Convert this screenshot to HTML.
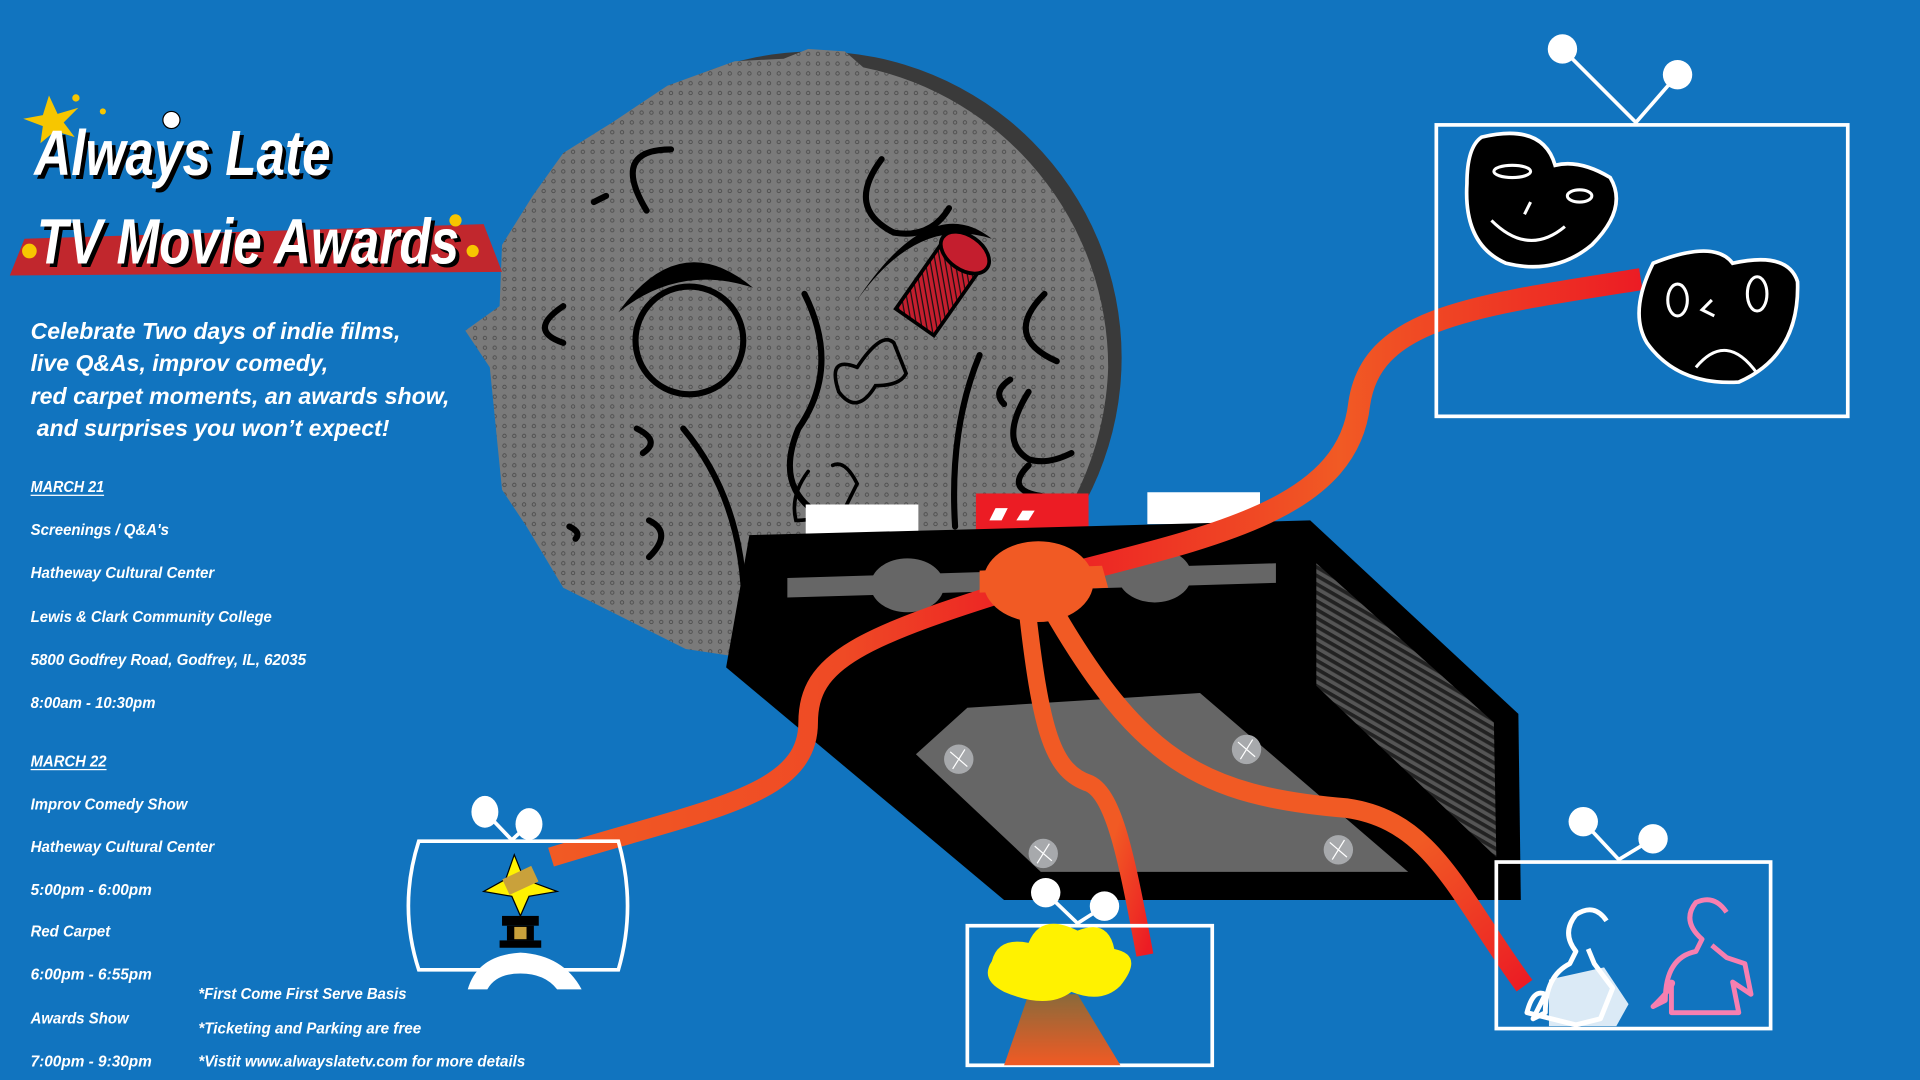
<!DOCTYPE html>
<html><head><meta charset="utf-8"><style>
html,body{margin:0;padding:0;background:#1174bf;overflow:hidden}
svg{display:block}
text{font-family:"Liberation Sans",sans-serif}
</style></head><body>
<svg width="1920" height="1080" viewBox="0 0 1568 882" xmlns="http://www.w3.org/2000/svg">
<defs>
<pattern id="dots" width="8" height="8" patternUnits="userSpaceOnUse">
<rect width="8" height="8" fill="#7a7a7a"/><circle cx="4" cy="4" r="1.4" fill="none" stroke="#4a4a4a" stroke-width="0.7"/>
</pattern>
<pattern id="hatch" width="6" height="6" patternUnits="userSpaceOnUse" patternTransform="rotate(30)">
<rect width="6" height="6" fill="#555"/><rect width="6" height="3" fill="#222"/>
</pattern>
<pattern id="rhatch" width="4" height="4" patternUnits="userSpaceOnUse" patternTransform="rotate(45)">
<rect width="4" height="4" fill="#c41e2e"/><rect width="4" height="1" fill="#111"/>
</pattern>
<linearGradient id="cab" x1="0" x2="1"><stop offset="0" stop-color="#ec1c24"/><stop offset="0.5" stop-color="#f15a24"/><stop offset="1" stop-color="#ec1c24"/></linearGradient>
<linearGradient id="cab2" x1="0" x2="1"><stop offset="0" stop-color="#f15a24"/><stop offset="0.6" stop-color="#ef4a25"/><stop offset="1" stop-color="#ec1c24"/></linearGradient>
<linearGradient id="cab3" x1="0" x2="1" y1="0" y2="1"><stop offset="0" stop-color="#f15a24"/><stop offset="0.7" stop-color="#f15a24"/><stop offset="1" stop-color="#ec1c24"/></linearGradient>
<linearGradient id="trunk" x1="0" y1="0" x2="0" y2="1"><stop offset="0" stop-color="#8a6a3a"/><stop offset="1" stop-color="#f15a24"/></linearGradient>
</defs>
<rect width="1568" height="882" fill="#1174bf"/>

<!-- moon -->
<circle cx="666" cy="292" r="250" fill="#3a3a3a"/>
<path d="M660 40 L690 42 L705 55 A250 250 0 0 1 905 300 A250 250 0 0 1 640 542 L560 530 L460 480 L430 430 L410 400 L404 340 L400 300 L380 270 L408 250 L410 200 L435 160 L460 125 L500 100 L545 70 L600 50 L640 48 Z" fill="url(#dots)"/>
<g fill="none" stroke="#000" stroke-width="5" stroke-linecap="round">
<circle cx="563" cy="278" r="44"/>
<path d="M528 172 q-30 -50 20 -50"/>
<path d="M657 240 q30 60 -5 110 q-25 60 40 80 q30 5 50 -15"/>
<path d="M558 350 q50 60 50 150"/>
<path d="M800 290 q-25 60 -20 140"/>
<path d="M720 130 q-30 40 10 60 q30 5 45 -20"/>
<path d="M840 320 q-25 40 0 55 q15 5 35 -5"/>
<path d="M853 240 q-35 35 10 55"/>
<path d="M820 330 q-10 -10 5 -20"/>
<path d="M460 250 q-30 20 0 30"/>
<path d="M530 425 q20 10 0 30"/>
<path d="M520 350 q20 10 5 20"/>
<path d="M465 430 q10 5 5 10"/>
<path d="M840 380 q-20 20 10 25"/>
<path d="M485 165 l10 -5"/>
<path d="M700 300 q-25 -10 -15 20 q15 20 30 -5 q20 0 25 -10 l-10 -25 q-10 -10 -30 20" stroke-width="3"/>
<path d="M660 385 q-15 20 -10 40 q20 0 40 -10 l10 -20 q-10 -20 -20 -15" stroke-width="3"/>
</g>
<path d="M615 235 q-60 -50 -110 20 q50 -40 110 -20z" fill="#000"/>
<path d="M700 245 q60 -90 110 -50 q-60 -20 -110 50z" fill="#000"/>
<g transform="translate(768,235) rotate(35)">
<rect x="-20" y="-35" width="38" height="70" fill="url(#rhatch)" stroke="#000" stroke-width="3"/>
<ellipse cx="0" cy="-35" rx="22" ry="14" fill="#c41e2e" stroke="#000" stroke-width="3"/>
</g>

<!-- VCR body -->
<rect x="658" y="412" width="92" height="24" fill="#fff"/>
<rect x="797" y="403" width="92" height="30" fill="#ec1c24"/>
<path d="M808 425 l5 -10 l10 0 l-5 10z M830 425 l5 -8 l10 0 l-5 8z" fill="#fff"/>
<rect x="937" y="402" width="92" height="26" fill="#fff"/>
<path d="M612 437 L1070 425 L1240 583 L1242 735 L820 735 L593 545 Z" fill="#000"/>
<path d="M1075 460 L1220 590 L1222 700 L1075 560 Z" fill="url(#hatch)"/>
<path d="M790 578 L980 566 L1150 712 L850 712 L748 616 Z" fill="#666"/>
<g fill="#a7a9ac"><circle cx="783" cy="620" r="12"/><circle cx="1018" cy="612" r="12"/><circle cx="852" cy="697" r="12"/><circle cx="1093" cy="694" r="12"/></g>
<g stroke="#fff" stroke-width="1"><path d="M776 614 l14 12 M778 628 l10 -16"/><path d="M1011 606 l14 12 M1013 620 l10 -16"/><path d="M845 691 l14 12 M847 705 l10 -16"/><path d="M1086 688 l14 12 M1088 702 l10 -16"/></g>
<path d="M643 472 L1042 460 L1042 476 L643 488 Z" fill="#666"/>
<ellipse cx="741" cy="478" rx="30" ry="22" fill="#666"/>
<ellipse cx="943" cy="470" rx="30" ry="22" fill="#666"/>

<!-- cables -->
<g fill="none" stroke-linecap="butt">
<path d="M848 475 C 700 520 660 540 660 590 C 660 650 580 660 450 700" stroke="url(#cab2)" stroke-width="16"/>
<path d="M848 475 C 980 440 1100 420 1110 330 C 1120 260 1200 250 1340 228" stroke="url(#cab)" stroke-width="18"/>
<path d="M838 490 C 850 600 860 630 890 640 C 910 650 920 700 935 780" stroke="url(#cab3)" stroke-width="14"/>
<path d="M858 495 C 930 620 980 650 1100 660 C 1170 670 1190 730 1245 805" stroke="url(#cab3)" stroke-width="16"/>
</g>
<ellipse cx="848" cy="475" rx="45" ry="33" fill="#f15a24"/>
<path d="M800 466 L900 462 L905 480 L800 484Z" fill="#f15a24"/>

<!-- TVs -->
<g stroke="#fff" stroke-width="3" fill="none">
<rect x="1173" y="102" width="336" height="238"/>
<path d="M1276 40 L1336 100 L1370 61"/>
<rect x="1222" y="704" width="224" height="136"/>
<path d="M1293 671 L1322 702 L1350 685"/>
<rect x="790" y="756" width="200" height="114"/>
<path d="M854 729 L880 754 L902 740"/>
<path d="M342 687 L505 687 Q520 740 505 792 L342 792 Q325 740 342 687Z"/>
<path d="M396 663 L418 686 L432 673"/>
</g>
<g fill="#fff"><circle cx="1276" cy="40" r="12"/><circle cx="1370" cy="61" r="12"/><circle cx="1293" cy="671" r="12"/><circle cx="1350" cy="685" r="12"/><circle cx="854" cy="729" r="12"/><circle cx="902" cy="740" r="12"/><ellipse cx="396" cy="663" rx="11" ry="13"/><ellipse cx="432" cy="673" rx="11" ry="13"/></g>
<!-- masks -->
<path d="M1210 112 Q1260 100 1270 135 Q1290 130 1315 145 Q1330 170 1300 200 Q1270 225 1230 215 Q1195 200 1198 150 Q1198 120 1210 112Z" fill="#000" stroke="#fff" stroke-width="3"/>
<g stroke="#fff" stroke-width="2.5" fill="none"><ellipse cx="1235" cy="140" rx="15" ry="5"/><ellipse cx="1290" cy="160" rx="10" ry="5"/><path d="M1218 180 q30 30 60 5"/><path d="M1250 165 l-5 10"/></g>
<path d="M1350 215 Q1400 195 1415 215 Q1460 205 1468 230 Q1470 290 1420 312 Q1370 315 1345 280 Q1330 255 1350 215Z" fill="#000" stroke="#fff" stroke-width="3"/>
<g stroke="#fff" stroke-width="2.5" fill="none"><ellipse cx="1370" cy="245" rx="8" ry="13"/><ellipse cx="1435" cy="240" rx="8" ry="14"/><path d="M1385 300 q25 -30 50 5"/><path d="M1398 245 l-8 8 l10 5"/></g>
<!-- figures -->
<g fill="none" stroke-width="4" stroke-linejoin="round">
<path d="M1312 752 q-10 -15 -25 -5 q-12 15 0 30 l-5 10 q-20 10 -20 40 l-10 5 l10 -20 q-10 -5 -15 15 l40 10 l20 -5 l10 -25 l-15 -20 l-5 -12" stroke="#fff"/>
<path d="M1410 745 q-10 -15 -25 -8 q-12 15 5 30 l-5 10 q-25 5 -25 40 l-10 5 q20 -20 15 -20 l0 25 l55 0 l-5 -25 l15 10 l-5 -25 l-15 -5 l-12 -10" stroke="#f77fb0"/>
</g>
<path d="M1265 800 L1310 790 L1330 820 L1320 838 L1265 838Z" fill="#fff" opacity="0.85"/>
<!-- explosion -->
<path d="M840 812 L880 812 L915 870 L820 870Z" fill="url(#trunk)"/>
<path d="M820 810 q-20 -10 -10 -25 q5 -20 30 -15 q10 -25 40 -10 q25 -10 30 15 q25 5 5 30 q-15 15 -40 5 q-20 15 -55 0z" fill="#fff200"/>
<!-- trophy -->
<path d="M382 808 Q390 780 425 778 Q460 780 475 808 L455 808 Q445 795 425 795 Q405 795 398 808Z" fill="#fff"/>
<rect x="410" y="748" width="30" height="8" fill="#000"/><rect x="414" y="756" width="22" height="12" fill="#000"/><rect x="420" y="757" width="10" height="10" fill="#c9a13b"/><rect x="408" y="768" width="34" height="6" fill="#000"/>
<path d="M420 698 L428 718 L455 728 L432 732 L425 748 L418 732 L395 728 L413 718Z" fill="#fff200" stroke="#000"/>
<rect x="412" y="712" width="26" height="14" fill="#c9a13b" transform="rotate(-25 425 719)"/>

<!-- title -->
<path d="M8 225 L20 195 L395 183 L410 222 Z" fill="#c1272d"/>
<g fill="#f7c600"><path d="M40 78 l7 15 l17 -5 l-12 12 l9 12 l-16 -5 l-12 10 l2 -14 l-16 -6 l16 -3z"/><circle cx="62" cy="80" r="3"/><circle cx="84" cy="91" r="2.5"/><circle cx="24" cy="205" r="6"/><circle cx="372" cy="180" r="5"/><circle cx="386" cy="205" r="5"/></g>
<g font-style="italic" font-weight="bold" font-size="52">
<text x="31" y="146" fill="#000" textLength="242" lengthAdjust="spacingAndGlyphs">Always Late</text>
<text x="28" y="143" fill="#fff" textLength="242" lengthAdjust="spacingAndGlyphs">Always Late</text>
<text x="33" y="218" fill="#000" textLength="345" lengthAdjust="spacingAndGlyphs">TV Movie Awards</text>
<text x="30" y="215" fill="#fff" textLength="345" lengthAdjust="spacingAndGlyphs">TV Movie Awards</text>
</g>
<circle cx="140" cy="98" r="7" fill="#fff" stroke="#000"/>

<!-- body text -->
<g fill="#fff" font-style="italic" font-weight="bold" font-size="19">
<text x="25" y="277" textLength="302" lengthAdjust="spacingAndGlyphs">Celebrate Two days of indie films,</text>
<text x="25" y="303" textLength="243" lengthAdjust="spacingAndGlyphs">live Q&amp;As, improv comedy,</text>
<text x="25" y="330" textLength="342" lengthAdjust="spacingAndGlyphs">red carpet moments, an awards show,</text>
<text x="30" y="356" textLength="288" lengthAdjust="spacingAndGlyphs">and surprises you won’t expect!</text>
</g>
<g fill="#fff" font-style="italic" font-weight="bold" font-size="13">
<text x="25" y="402" textLength="60" lengthAdjust="spacingAndGlyphs">MARCH 21</text>
<rect x="25" y="404" width="60" height="1"/>
<text x="25" y="437" textLength="113" lengthAdjust="spacingAndGlyphs">Screenings / Q&amp;A's</text>
<text x="25" y="472" textLength="150" lengthAdjust="spacingAndGlyphs">Hatheway Cultural Center</text>
<text x="25" y="508" textLength="197" lengthAdjust="spacingAndGlyphs">Lewis &amp; Clark Community College</text>
<text x="25" y="543" textLength="225" lengthAdjust="spacingAndGlyphs">5800 Godfrey Road, Godfrey, IL, 62035</text>
<text x="25" y="578" textLength="102" lengthAdjust="spacingAndGlyphs">8:00am - 10:30pm</text>
<text x="25" y="626" textLength="62" lengthAdjust="spacingAndGlyphs">MARCH 22</text>
<rect x="25" y="628" width="62" height="1"/>
<text x="25" y="661" textLength="128" lengthAdjust="spacingAndGlyphs">Improv Comedy Show</text>
<text x="25" y="696" textLength="150" lengthAdjust="spacingAndGlyphs">Hatheway Cultural Center</text>
<text x="25" y="731" textLength="99" lengthAdjust="spacingAndGlyphs">5:00pm - 6:00pm</text>
<text x="25" y="765" textLength="65" lengthAdjust="spacingAndGlyphs">Red Carpet</text>
<text x="25" y="800" textLength="99" lengthAdjust="spacingAndGlyphs">6:00pm - 6:55pm</text>
<text x="25" y="836" textLength="80" lengthAdjust="spacingAndGlyphs">Awards Show</text>
<text x="25" y="871" textLength="99" lengthAdjust="spacingAndGlyphs">7:00pm - 9:30pm</text>
<text x="162" y="816" textLength="170" lengthAdjust="spacingAndGlyphs">*First Come First Serve Basis</text>
<text x="162" y="844" textLength="182" lengthAdjust="spacingAndGlyphs">*Ticketing and Parking are free</text>
<text x="162" y="871" textLength="267" lengthAdjust="spacingAndGlyphs">*Vistit www.alwayslatetv.com for more details</text>
</g>
</svg>
</body></html>
